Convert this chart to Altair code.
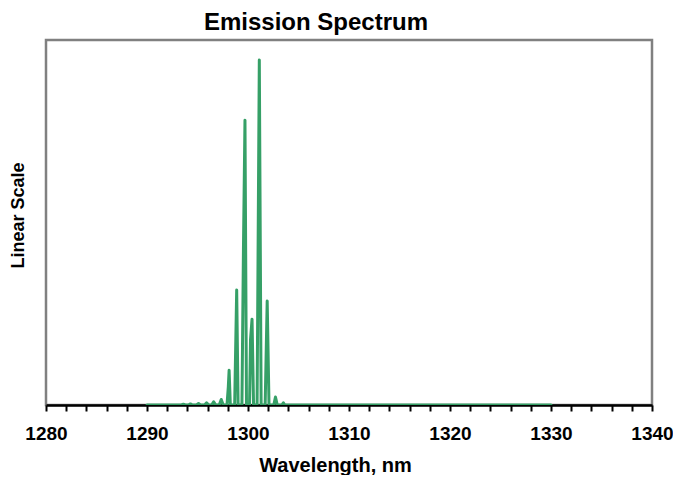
import altair as alt
import pandas as pd

# Emission spectrum trace (wavelength in nm, linear intensity)
wavelength = [1290.0, 1293.4, 1293.6, 1293.8, 1294.1, 1294.3, 1294.5, 1294.9, 1295.1, 1295.3,
              1295.7, 1295.9, 1296.1, 1296.4, 1296.6, 1296.8, 1297.15, 1297.35, 1297.55,
              1297.92, 1298.05, 1298.13, 1298.25, 1298.68, 1298.88, 1299.02, 1299.4, 1299.55,
              1299.7, 1299.85, 1300.15, 1300.25, 1300.4, 1300.55, 1300.9, 1301.12, 1301.3,
              1301.7, 1301.9, 1302.08, 1302.55, 1302.72, 1302.9, 1303.35, 1303.5, 1303.65, 1330.0]
intensity = [0, 0, 0.002, 0, 0, 0.003, 0, 0, 0.004, 0,
             0, 0.006, 0, 0, 0.009, 0, 0, 0.015, 0,
             0, 0.05, 0.095, 0, 0, 0.315, 0, 0, 0.43,
             0.78, 0, 0, 0.18, 0.235, 0, 0, 0.945, 0,
             0, 0.285, 0, 0, 0.022, 0, 0, 0.006, 0, 0]

x_ticks = list(range(1280, 1341, 2))

df = pd.DataFrame({"wavelength": wavelength, "intensity": intensity, "order": range(len(wavelength))})

chart = alt.Chart(df).mark_line(
    color="#36a067", strokeWidth=3, strokeJoin="round", strokeCap="round", clip=True
).encode(
    x=alt.X("wavelength:Q",
            scale=alt.Scale(domain=[1280, 1340], nice=False, zero=False),
            axis=alt.Axis(values=x_ticks, title="Wavelength, nm",
                          labelExpr="datum.value % 10 == 0 ? datum.label : ''",
                          format="d", labelOverlap=False, labelFlush=False, grid=False,
                          domainColor="black", domainWidth=2.5,
                          tickColor="black", tickWidth=2, tickSize=6,
                          labelFont="Liberation Sans", labelFontSize=19, labelFontWeight="bold",
                          labelColor="black", labelPadding=13,
                          titleFont="Liberation Sans", titleFontSize=20, titleFontWeight="bold",
                          titleColor="black", titlePadding=12, titleX=289, titleAlign="center")),
    y=alt.Y("intensity:Q",
            scale=alt.Scale(domain=[0, 1], nice=False),
            axis=alt.Axis(title="Linear Scale", labels=False, ticks=False, domain=False, grid=False,
                          titleFont="Liberation Sans", titleFontSize=18, titleFontWeight="bold",
                          titleColor="black", titlePadding=19, titleY=175, titleAlign="center")),
    order="order:Q",
).properties(
    width=606, height=365,
    autosize=alt.AutoSizeParams(type="none"),
    padding={"left": 38, "top": 32, "right": 21, "bottom": 70},
    title=alt.TitleParams("Emission Spectrum", font="Liberation Sans", fontSize=24,
                          fontWeight="bold", color="black", anchor="middle", dx=-33, offset=5),
).configure_view(
    stroke="#808080", strokeWidth=2.5
)

chart.save("out.html", embed_options={"renderer": "svg", "actions": False})
